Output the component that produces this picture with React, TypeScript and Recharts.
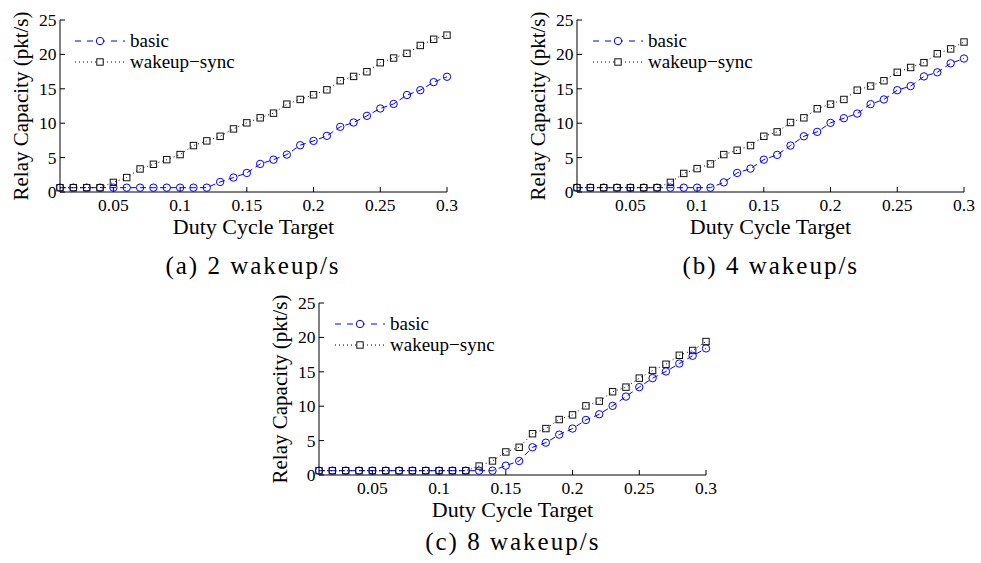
import React from 'react';
import { LineChart, Line, XAxis, YAxis, Legend } from 'recharts';

const dutyCycle = [0.01, 0.02, 0.03, 0.04, 0.05, 0.06, 0.07, 0.08, 0.09, 0.1, 0.11, 0.12, 0.13, 0.14, 0.15, 0.16, 0.17, 0.18, 0.19, 0.2, 0.21, 0.22, 0.23, 0.24, 0.25, 0.26, 0.27, 0.28, 0.29, 0.3];

const basicA = [0.63, 0.63, 0.63, 0.63, 0.63, 0.63, 0.63, 0.63, 0.63, 0.63, 0.63, 0.63, 1.46, 2.1, 2.77, 4.08, 4.7, 5.44, 6.8, 7.43, 8.16, 9.47, 10.1, 11.07, 12.14, 12.8, 14.1, 14.8, 15.97, 16.75];
const syncA = [0.63, 0.63, 0.63, 0.63, 1.4, 2.1, 3.35, 4.03, 4.7, 5.44, 6.75, 7.43, 8.1, 9.17, 10.05, 10.78, 11.46, 12.77, 13.45, 14.13, 14.85, 16.17, 16.8, 17.48, 18.79, 19.47, 20.15, 21.3, 22.2, 22.8];

const basicB = [0.63, 0.63, 0.63, 0.63, 0.63, 0.63, 0.63, 0.63, 0.63, 0.63, 0.63, 1.4, 2.77, 3.4, 4.7, 5.4, 6.75, 8.1, 8.74, 10.05, 10.73, 11.4, 12.77, 13.45, 14.8, 15.4, 16.8, 17.4, 18.7, 19.4];
const syncB = [0.63, 0.63, 0.63, 0.63, 0.63, 0.63, 0.63, 1.4, 2.7, 3.4, 4.08, 5.44, 6.07, 6.75, 8.1, 8.74, 10.1, 10.78, 12.1, 12.77, 13.45, 14.8, 15.4, 16.17, 17.4, 18.1, 18.8, 20.1, 20.8, 21.8];

const basicC = [0.63, 0.63, 0.63, 0.63, 0.63, 0.63, 0.63, 0.63, 0.63, 0.63, 0.63, 0.63, 0.63, 0.63, 1.36, 2.04, 4.03, 4.7, 5.87, 6.75, 8.0, 8.83, 10.05, 11.4, 12.77, 14.08, 15.05, 16.2, 17.33, 18.4];
const syncC = [0.63, 0.63, 0.63, 0.63, 0.63, 0.63, 0.63, 0.63, 0.63, 0.63, 0.63, 0.63, 1.3, 2.04, 3.35, 4.03, 6.0, 6.75, 8.06, 8.74, 10.05, 10.73, 12.1, 12.77, 14.08, 15.2, 16.1, 17.4, 18.1, 19.4];

const xTicks = [0.05, 0.1, 0.15, 0.2, 0.25, 0.3];
const yTicks = [0, 5, 10, 15, 20, 25];
const seriesNames = ['basic', 'wakeup\u2212sync'];
const captions = ['(a) 2 wakeup/s', '(b) 4 wakeup/s', '(c) 8 wakeup/s'];

const SERIF = '"Liberation Serif", "Times New Roman", serif';
const BLUE = '#0000ff';
const BLACK = '#000000';

const PLOT_W = 387;
const PLOT_H = 172;
const Y_AXIS_W = 60;
const M_TOP = 10;
const M_RIGHT = 20;
const X_AXIS_H = 55;

const CircleDot = (props: any) => {
  const { cx, cy, index } = props;
  if (cx == null || cy == null) return <g key={`c${index}`} />;
  return <circle key={`c${index}`} cx={cx} cy={cy} r={3.7} fill="none" stroke={BLUE} strokeWidth={1} />;
};

const SquareDot = (props: any) => {
  const { cx, cy, index } = props;
  if (cx == null || cy == null) return <g key={`s${index}`} />;
  return <rect key={`s${index}`} x={cx - 3.2} y={cy - 3.2} width={6.4} height={6.4} fill="none" stroke="#111" strokeWidth={1} />;
};

const XTick = (props: any) => {
  const { x, y, payload } = props;
  return (
    <text x={x} y={y + 12} textAnchor="middle" fontFamily={SERIF} fontSize={17.5} fill={BLACK}>
      {String(payload.value)}
    </text>
  );
};

const YTick = (props: any) => {
  const { x, y, payload } = props;
  return (
    <text x={x} y={y + 6} textAnchor="end" fontFamily={SERIF} fontSize={17.5} fill={BLACK}>
      {String(payload.value)}
    </text>
  );
};

const LegendBox = () => (
  <svg width={230} height={44} style={{ display: 'block', overflow: 'visible' }}>
    <line x1={0} y1={11} x2={50} y2={11} stroke={BLUE} strokeWidth={1} strokeDasharray="6 6" />
    <circle cx={25} cy={11} r={3.7} fill="white" stroke={BLUE} strokeWidth={1} />
    <text x={55} y={17} fontFamily={SERIF} fontSize={19} fill={BLACK}>{seriesNames[0]}</text>
    <line x1={0} y1={32} x2={50} y2={32} stroke={BLACK} strokeWidth={1} strokeDasharray="1 3" />
    <rect x={21.8} y={28.8} width={6.4} height={6.4} fill="white" stroke="#111" strokeWidth={1} />
    <text x={55} y={38} fontFamily={SERIF} fontSize={19} fill={BLACK}>{seriesNames[1]}</text>
  </svg>
);

const XTitle = (props: any) => {
  const vb = props.viewBox || {};
  return (
    <text x={vb.x + vb.width / 2} y={vb.y + 41.5} textAnchor="middle" fontFamily={SERIF} fontSize={22} fill={BLACK}>
      Duty Cycle Target
    </text>
  );
};

const YTitle = (props: any) => {
  const vb = props.viewBox || {};
  const cx = vb.x + vb.width - 39;
  const cy = vb.y + vb.height / 2;
  return (
    <text x={cx} y={cy} transform={`rotate(-90 ${cx} ${cy})`} textAnchor="middle" dominantBaseline="central" fontFamily={SERIF} fontSize={21} fill={BLACK}>
      Relay Capacity (pkt/s)
    </text>
  );
};

type PanelProps = { plotLeft: number; plotTop: number; basic: number[]; sync: number[]; caption: string; captionY: number };

const Panel = ({ plotLeft, plotTop, basic, sync, caption, captionY }: PanelProps) => {
  const data = dutyCycle.map((x, i) => ({ x, basic: basic[i], sync: sync[i] }));
  const width = Y_AXIS_W + PLOT_W + M_RIGHT;
  const height = M_TOP + PLOT_H + X_AXIS_H;
  return (
    <>
      <div style={{ position: 'absolute', left: plotLeft - Y_AXIS_W, top: plotTop - M_TOP, width, height }}>
        <LineChart width={width} height={height} data={data} margin={{ top: M_TOP, right: M_RIGHT, bottom: 0, left: 0 }} style={{ overflow: 'visible' }}>
          <XAxis
            dataKey="x"
            type="number"
            domain={[0.01, 0.3]}
            ticks={xTicks}
            height={X_AXIS_H}
            tickSize={-5}
            tickMargin={12}
            tick={XTick}
            axisLine={{ stroke: BLACK }}
            tickLine={{ stroke: BLACK }}
            interval={0}
            label={{ content: XTitle }}
          />
          <XAxis
            xAxisId="top"
            orientation="top"
            type="number"
            domain={[0.01, 0.3]}
            ticks={xTicks}
            height={0}
            tickSize={-5}
            tick={false}
            axisLine={{ stroke: BLACK }}
            tickLine={{ stroke: BLACK }}
            interval={0}
          />
          <YAxis
            type="number"
            domain={[0, 25]}
            ticks={yTicks}
            width={Y_AXIS_W}
            tickSize={-5}
            tickMargin={8.5}
            tick={YTick}
            axisLine={{ stroke: BLACK }}
            tickLine={{ stroke: BLACK }}
            interval={0}
            label={{ content: YTitle }}
          />
          <YAxis
            yAxisId="right"
            orientation="right"
            type="number"
            domain={[0, 25]}
            ticks={yTicks}
            width={0}
            tickSize={-5}
            tick={false}
            axisLine={{ stroke: BLACK }}
            tickLine={{ stroke: BLACK }}
            interval={0}
          />
          <Legend
            layout="vertical"
            align="center"
            verticalAlign="middle"
            wrapperStyle={{ left: Y_AXIS_W + 15.5, top: M_TOP + 10, width: 230, height: 44 }}
            content={() => <LegendBox />}
          />
          <Line
            name={seriesNames[0]}
            dataKey="basic"
            stroke={BLUE}
            strokeWidth={1}
            strokeDasharray="6 4"
            dot={CircleDot}
            activeDot={false}
            isAnimationActive={false}
            type="linear"
          />
          <Line
            name={seriesNames[1]}
            dataKey="sync"
            stroke={BLACK}
            strokeWidth={1}
            strokeDasharray="1 3"
            dot={SquareDot}
            activeDot={false}
            isAnimationActive={false}
            type="linear"
          />
        </LineChart>
      </div>
      <div
        style={{
          position: 'absolute',
          left: plotLeft - 60,
          width: PLOT_W + 120,
          top: captionY - 15,
          height: 30,
          lineHeight: '30px',
          textAlign: 'center',
          fontFamily: SERIF,
          fontSize: 25,
          letterSpacing: 2,
          color: BLACK,
          whiteSpace: 'nowrap',
        }}
      >
        {caption}
      </div>
    </>
  );
};

export default function App() {
  return (
    <div style={{ position: 'absolute', left: 0, top: 0, width: 981, height: 563, background: '#fff', overflow: 'hidden' }}>
      <Panel plotLeft={59.5} plotTop={20} basic={basicA} sync={syncA} caption={captions[0]} captionY={266} />
      <Panel plotLeft={577.3} plotTop={20} basic={basicB} sync={syncB} caption={captions[1]} captionY={266} />
      <Panel plotLeft={319.3} plotTop={302.5} basic={basicC} sync={syncC} caption={captions[2]} captionY={542} />
    </div>
  );
}
